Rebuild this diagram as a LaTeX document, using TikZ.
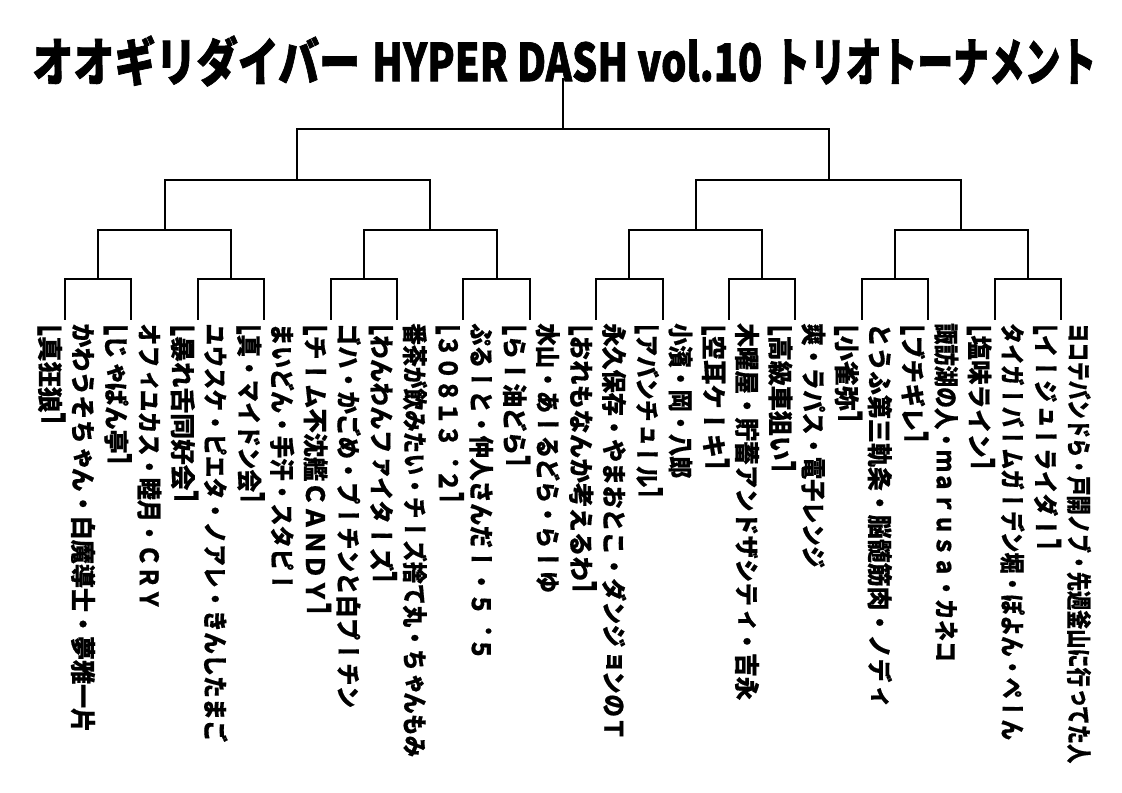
\documentclass[tikz,border=0pt]{standalone}
\usepackage{fontspec}
\usepackage{graphicx}
\newfontfamily\titlefont{Noto Sans CJK JP}[BoldFeatures={FakeBold=1.5}]
\newfontfamily\colfont{Noto Sans CJK JP}[Vertical=RotatedGlyphs, BoldFeatures={FakeBold=0.6}]
\newfontfamily\bkfont{Noto Sans CJK JP}[BoldFeatures={FakeBold=0.6}]
\usetikzlibrary{positioning}
% half-width corner brackets, turned and centred on the vertical column
\newsavebox\bkboxa
\newsavebox\bkboxb
\newlength\bkcol
\newlength\bkink
\newcommand\bk[1]{%
  \sbox\bkboxa{\lower3em\hbox{\colfont 田}}\sbox\bkboxb{\raise3em\hbox{\colfont 田}}%
  \setlength\bkcol{\dimexpr(\ht\bkboxb-\dp\bkboxa)/2\relax}%
  \sbox\bkboxa{\lower3em\hbox{#1}}\sbox\bkboxb{\raise3em\hbox{#1}}%
  \setlength\bkink{\dimexpr(\ht\bkboxb-\dp\bkboxa)/2\relax}%
  \raisebox{\dimexpr\bkcol-\bkink\relax}[0pt][0pt]{#1}}
\newcommand\obk{\bk{\scalebox{1}[1.5]{\reflectbox{\bkfont ｣}}}}
\newcommand\cbk{\bk{\scalebox{1}[1.5]{\reflectbox{\bkfont ｢}}}}
% title piece squeezed to a width given in px
\newcommand\tpart[2]{\resizebox{\dimexpr#1pt*3/4\relax}{\height}{#2}}

\begin{document}
\begin{tikzpicture}[x=0.75pt, y=-0.75pt,
    bracket/.style={line width=1.5pt},
    colbox/.style={rotate=-90, anchor=west, inner sep=0pt,
      font=\colfont\bfseries\fontsize{19pt}{19pt}\selectfont}]
  \useasboundingbox (0,0) rectangle (1122,793);

  % Title
  \node[inner sep=0pt, anchor=west, font=\titlefont\bfseries\fontsize{39pt}{39pt}\selectfont] (title) at (32,61)
    {\tpart{328}{オオギリダイバー}\hspace{9pt}\tpart{390}{HYPER DASH vol.10}\hspace{9pt}\tpart{322}{トリオトーナメント}};

  % Bracket junctions
  \foreach \i in {0,...,15}
    \coordinate (l\i) at ({65+66.4*\i}, 320);
  \foreach \k in {0,...,7}
    \coordinate (a\k) at ({65+66.4*(2*\k+0.5)}, 279);
  \foreach \k in {0,...,3}
    \coordinate (b\k) at ({65+66.4*(4*\k+1.5)}, 230);
  \foreach \k in {0,1}
    \coordinate (c\k) at ({65+66.4*(8*\k+3.5)}, 180);
  \coordinate (root) at ({65+66.4*7.5}, 129);
  \coordinate (top) at ({65+66.4*7.5}, 78);

  % Bracket lines
  \draw[bracket] (top) -- (root);
  \foreach \k in {0,1}
    \draw[bracket] (root) -| (c\k);
  \foreach \k in {0,...,3} {
    \pgfmathtruncatemacro\p{\k/2}
    \draw[bracket] (c\p) -| (b\k);
  }
  \foreach \k in {0,...,7} {
    \pgfmathtruncatemacro\p{\k/2}
    \draw[bracket] (b\p) -| (a\k);
  }
  \foreach \i in {0,...,15} {
    \pgfmathtruncatemacro\p{\i/2}
    \draw[bracket] (a\p) -| (l\i);
  }

  % Teams: name column left of the line, members right of it
  \foreach \i/\nm/\nl/\mb/\ml in {
      0/真狂狼/102/かわうそちゃん・白魔導士・夢雅一片/409,
      1/じゃぱん亭/142/オフィユカス・睦月・ＣＲＹ/287,
      2/暴れ舌同好会/180/ユウスケ・ピエタ・ノアレ・きんしたまご/419,
      3/真・マイドン会/180/まいどん・手汗・スタピー/270,
      4/チーム不沈艦ＣＡＮＤＹ/292/ゴハ・かごめ・プーチンと白プーチン/385,
      5/わんわんファイターズ/260/番茶が飲みたい・チーズ捨て丸・ちゃんもみ/434,
      6/３０８１３．２/180/ぷるーと・仲人さんだー・５．５/337,
      7/らー油どら/144/水山・あーるどら・らーゆ/270,
      8/おれもなんか考えるわ/270/永久保存・やまおとこ・ダンジョンのＴ/417,
      9/アバンチュール/175/小濱・岡・八郎/155,
      10/空耳ケーキ/147/木曜屋・貯蓄アンドザシティ・吉永/377,
      11/高級車狙い/150/爽・ラパス・電子レンジ/245,
      12/小雀弥/100/とうふ第三軌条・脳髄筋肉・ノディ/383,
      13/ブチギレ/120/諏訪湖の人・ｍａｒｕｓａ・カネコ/339,
      14/塩味ライン/147/タイガーバームガーデン堀・ぽよん・ぺーん/417,
      15/イージューライダー/227/ヨコテバンドら・戸開ノブ・先週釜山に行ってた人/440} {
    \node[colbox] (n\i) at ({65+66.4*\i-15}, 323)
      {\resizebox{\dimexpr\nl pt*3/4\relax}{\height}{\obk\nm\cbk}};
    \node[colbox] (m\i) at ({65+66.4*\i+18}, 323)
      {\resizebox{\dimexpr\ml pt*3/4\relax}{\height}{\mb}};
  }
\end{tikzpicture}
\end{document}
